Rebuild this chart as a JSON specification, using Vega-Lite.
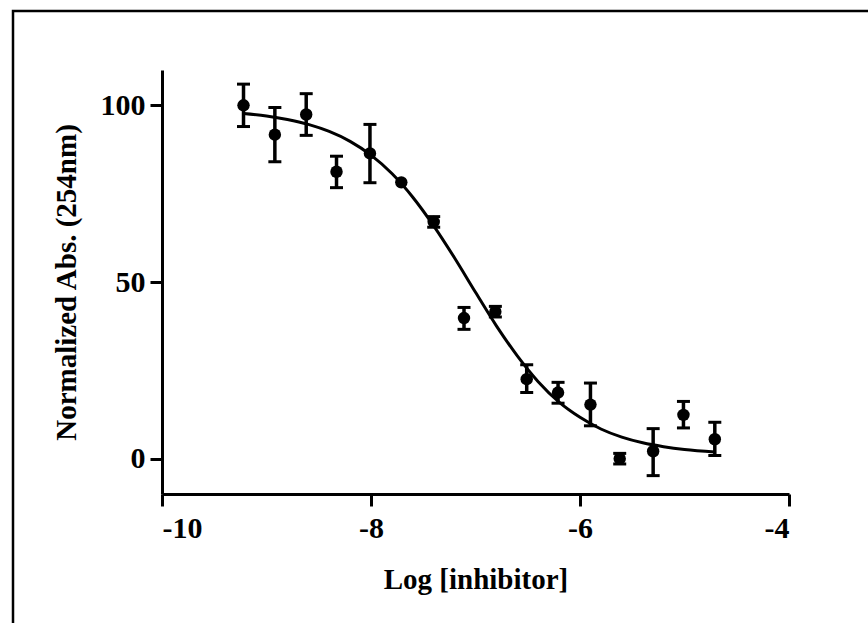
{
  "$schema": "https://vega.github.io/schema/vega-lite/v6.json",
  "autosize": {"type": "none"},
  "padding": {"left": 13, "top": 11, "right": -12, "bottom": -17},
  "width": 867,
  "height": 629,
  "background": "white",
  "config": {
    "view": {"stroke": "black", "strokeWidth": 2.5},
    "font": "Liberation Serif",
    "axis": {
      "grid": false,
      "domainColor": "black",
      "domainWidth": 3,
      "tickColor": "black",
      "tickWidth": 3,
      "tickSize": 12,
      "labelColor": "black",
      "labelFont": "Liberation Serif",
      "labelFontWeight": "bold",
      "labelFontSize": 30,
      "labelExpr": "'' + datum.value",
      "titleColor": "black",
      "titleFont": "Liberation Serif",
      "titleFontWeight": "bold",
      "titleFontSize": 29
    }
  },
  "datasets": {
    "points": [
      {"logc": -9.22, "abs": 100.0, "lo": 94.0, "hi": 106.0},
      {"logc": -8.92, "abs": 91.7, "lo": 84.0, "hi": 99.4},
      {"logc": -8.62, "abs": 97.4, "lo": 91.5, "hi": 103.3},
      {"logc": -8.33, "abs": 81.2, "lo": 76.7, "hi": 85.6},
      {"logc": -8.01, "abs": 86.4, "lo": 78.1, "hi": 94.6},
      {"logc": -7.71, "abs": 78.2, "lo": null, "hi": null},
      {"logc": -7.40, "abs": 67.0, "lo": 65.5, "hi": 68.5},
      {"logc": -7.11, "abs": 39.8, "lo": 36.6, "hi": 42.8},
      {"logc": -6.81, "abs": 41.6, "lo": 40.1, "hi": 43.1},
      {"logc": -6.51, "abs": 22.5, "lo": 18.7, "hi": 26.6},
      {"logc": -6.21, "abs": 18.7, "lo": 15.7, "hi": 21.6},
      {"logc": -5.90, "abs": 15.3, "lo": 9.3, "hi": 21.4},
      {"logc": -5.62, "abs": 0.0, "lo": -1.5, "hi": 1.5},
      {"logc": -5.30, "abs": 2.1, "lo": -4.8, "hi": 8.5},
      {"logc": -5.01, "abs": 12.4, "lo": 8.7, "hi": 16.2},
      {"logc": -4.71, "abs": 5.5, "lo": 0.9, "hi": 10.3}
    ],
    "fit": [
      {"logc": -9.22, "abs": 97.7},
      {"logc": -9.0, "abs": 97.0},
      {"logc": -8.8, "abs": 96.0},
      {"logc": -8.6, "abs": 94.6},
      {"logc": -8.4, "abs": 92.6},
      {"logc": -8.2, "abs": 89.8},
      {"logc": -8.0, "abs": 85.9},
      {"logc": -7.8, "abs": 80.7},
      {"logc": -7.6, "abs": 74.0},
      {"logc": -7.4, "abs": 65.9},
      {"logc": -7.2, "abs": 56.8},
      {"logc": -7.0, "abs": 47.1},
      {"logc": -6.8, "abs": 37.6},
      {"logc": -6.6, "abs": 29.1},
      {"logc": -6.4, "abs": 21.8},
      {"logc": -6.2, "abs": 16.0},
      {"logc": -6.0, "abs": 11.7},
      {"logc": -5.8, "abs": 8.4},
      {"logc": -5.6, "abs": 6.1},
      {"logc": -5.4, "abs": 4.5},
      {"logc": -5.2, "abs": 3.4},
      {"logc": -5.0, "abs": 2.6},
      {"logc": -4.71, "abs": 1.9}
    ]
  },
  "encoding": {
    "x": {
      "field": "logc",
      "type": "quantitative",
      "scale": {"domain": [-10, -4], "range": [149, 776], "nice": false, "zero": false},
      "axis": {
        "title": "Log [inhibitor]",
        "values": [-10, -8, -6, -4],
        "offset": -146,
        "labelPadding": 7,
        "titlePadding": 22
      }
    },
    "y": {
      "field": "abs",
      "type": "quantitative",
      "scale": {"domain": [-10, 110], "range": [483, 59], "nice": false, "zero": false},
      "axis": {
        "title": "Normalized Abs. (254nm)",
        "values": [0, 50, 100],
        "offset": -149,
        "labelPadding": 5,
        "titlePadding": 19
      }
    }
  },
  "layer": [
    {
      "data": {"name": "fit"},
      "mark": {"type": "line", "color": "black", "strokeWidth": 3, "interpolate": "monotone"}
    },
    {
      "data": {"name": "points"},
      "transform": [{"filter": "datum.lo != null"}],
      "mark": {"type": "rule", "color": "black", "strokeWidth": 3.5},
      "encoding": {"y": {"field": "lo", "type": "quantitative"}, "y2": {"field": "hi"}}
    },
    {
      "data": {"name": "points"},
      "transform": [{"filter": "datum.lo != null"}],
      "mark": {"type": "tick", "color": "black", "opacity": 1, "orient": "horizontal", "size": 13, "thickness": 3},
      "encoding": {"y": {"field": "lo", "type": "quantitative"}}
    },
    {
      "data": {"name": "points"},
      "transform": [{"filter": "datum.hi != null"}],
      "mark": {"type": "tick", "color": "black", "opacity": 1, "orient": "horizontal", "size": 13, "thickness": 3},
      "encoding": {"y": {"field": "hi", "type": "quantitative"}}
    },
    {
      "data": {"name": "points"},
      "mark": {"type": "point", "filled": true, "color": "black", "opacity": 1, "size": 155, "shape": "circle"}
    }
  ]
}
